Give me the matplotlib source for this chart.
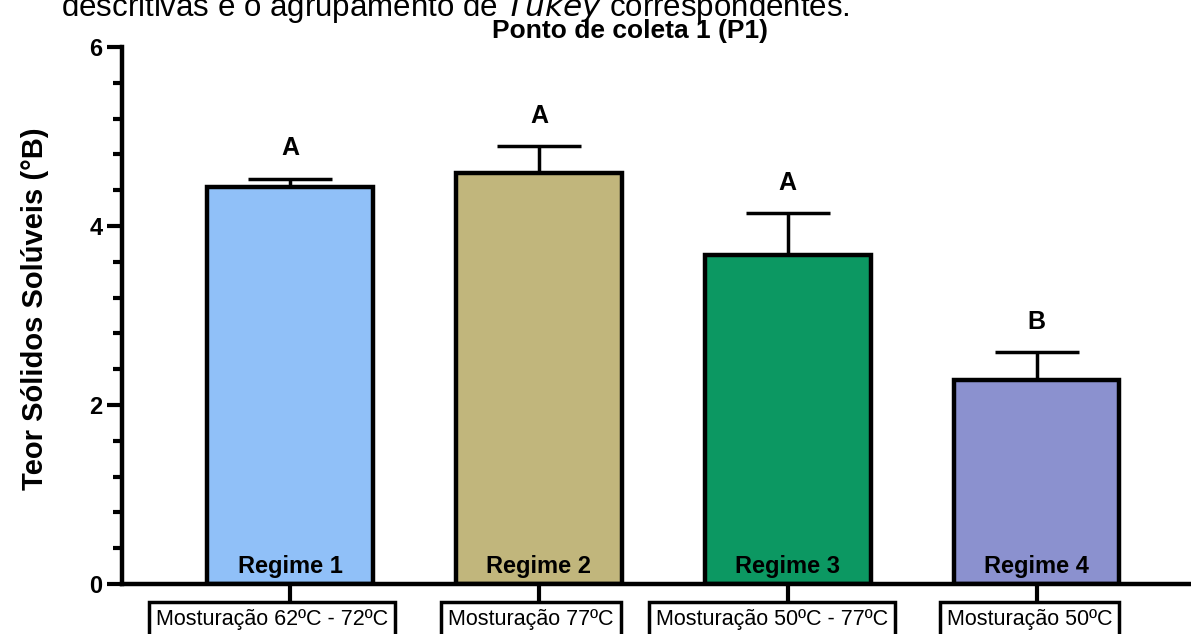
import matplotlib
matplotlib.use("Agg")
import matplotlib.pyplot as plt
from matplotlib.ticker import MultipleLocator
import matplotlib.transforms as mtransforms

plt.rcParams['font.family'] = ['Liberation Sans', 'DejaVu Sans']

regimes = ["Regime 1", "Regime 2", "Regime 3", "Regime 4"]
conditions = ["Mosturação 62ºC - 72ºC", "Mosturação 77ºC", "Mosturação 50ºC - 77ºC", "Mosturação 50ºC"]
means = [4.44, 4.59, 3.68, 2.28]
sds = [0.09, 0.30, 0.46, 0.31]
groups = ["A", "A", "A", "B"]
colors = ["#90C0F8", "#C1B67C", "#0C9862", "#8B91CF"]
yticks = [0, 2, 4, 6]
ytick_labels = ["0", "2", "4", "6"]
box_shift_px = [-18, -8, -16, -7]

W, H = 1191, 634
fig = plt.figure(figsize=(W / 100, H / 100), dpi=100)
ax = fig.add_axes([122 / W, 50 / H, (W - 122) / W, 537 / H])

x = list(range(len(regimes)))
ax.errorbar(x, means, yerr=[[0] * 4, sds], fmt='none', ecolor='black',
            elinewidth=2.5, capsize=30, capthick=2.5, zorder=1)
ax.bar(x, means, width=0.665, color=colors, edgecolor='black', linewidth=3.2, zorder=2)

for xi, m, s, g in zip(x, means, sds, groups):
    ax.annotate(g, (xi, m + s), xytext=(0, 22), textcoords='offset points',
                ha='center', va='center', fontsize=18, fontweight='bold')

for xi, r in zip(x, regimes):
    ax.text(xi, 0.2, r, ha='center', va='center', fontsize=17, fontweight='bold', zorder=3)

ax.set_xlim(-0.675, 3.62)
ax.set_ylim(0, 6)
ax.set_yticks(yticks)
ax.yaxis.set_minor_locator(MultipleLocator(0.4))
ax.tick_params(axis='y', which='major', length=11, width=3, pad=3)
ax.tick_params(axis='y', which='minor', length=6.5, width=3)
ax.set_yticklabels(ytick_labels, fontsize=17, fontweight='bold')
ax.set_xticks(x)
ax.set_xticklabels([])
ax.tick_params(axis='x', which='major', length=14, width=3)

for side in ['top', 'right']:
    ax.spines[side].set_visible(False)
for side in ['left', 'bottom']:
    ax.spines[side].set_linewidth(3.2)

fig.text(35 / W, (H - 309) / H, "Teor Sólidos Solúveis (°B)", rotation=90,
         ha='center', va='center', fontsize=21, fontweight='bold')

base = mtransforms.blended_transform_factory(ax.transData, fig.transFigure)
for xi, c, dx in zip(x, conditions, box_shift_px):
    tr = base + mtransforms.ScaledTranslation(dx / 100, 0, fig.dpi_scale_trans)
    ax.text(xi, (H - 619) / H, c, transform=tr, ha='center', va='center', fontsize=15.5,
            bbox=dict(boxstyle='square,pad=0.32', facecolor='white', edgecolor='black', linewidth=2.5),
            clip_on=False)

fig.text(630 / W, (H - 31) / H, "Ponto de coleta 1 (P1)", ha='center', va='center',
         fontsize=19, fontweight='bold')
fig.text(455 / W, (H - 16) / H, "descritivas e o agrupamento de $\\it{Tukey}$ correspondentes.",
         ha='center', va='baseline', fontsize=22.5)

fig.savefig("out.png", dpi=100)
